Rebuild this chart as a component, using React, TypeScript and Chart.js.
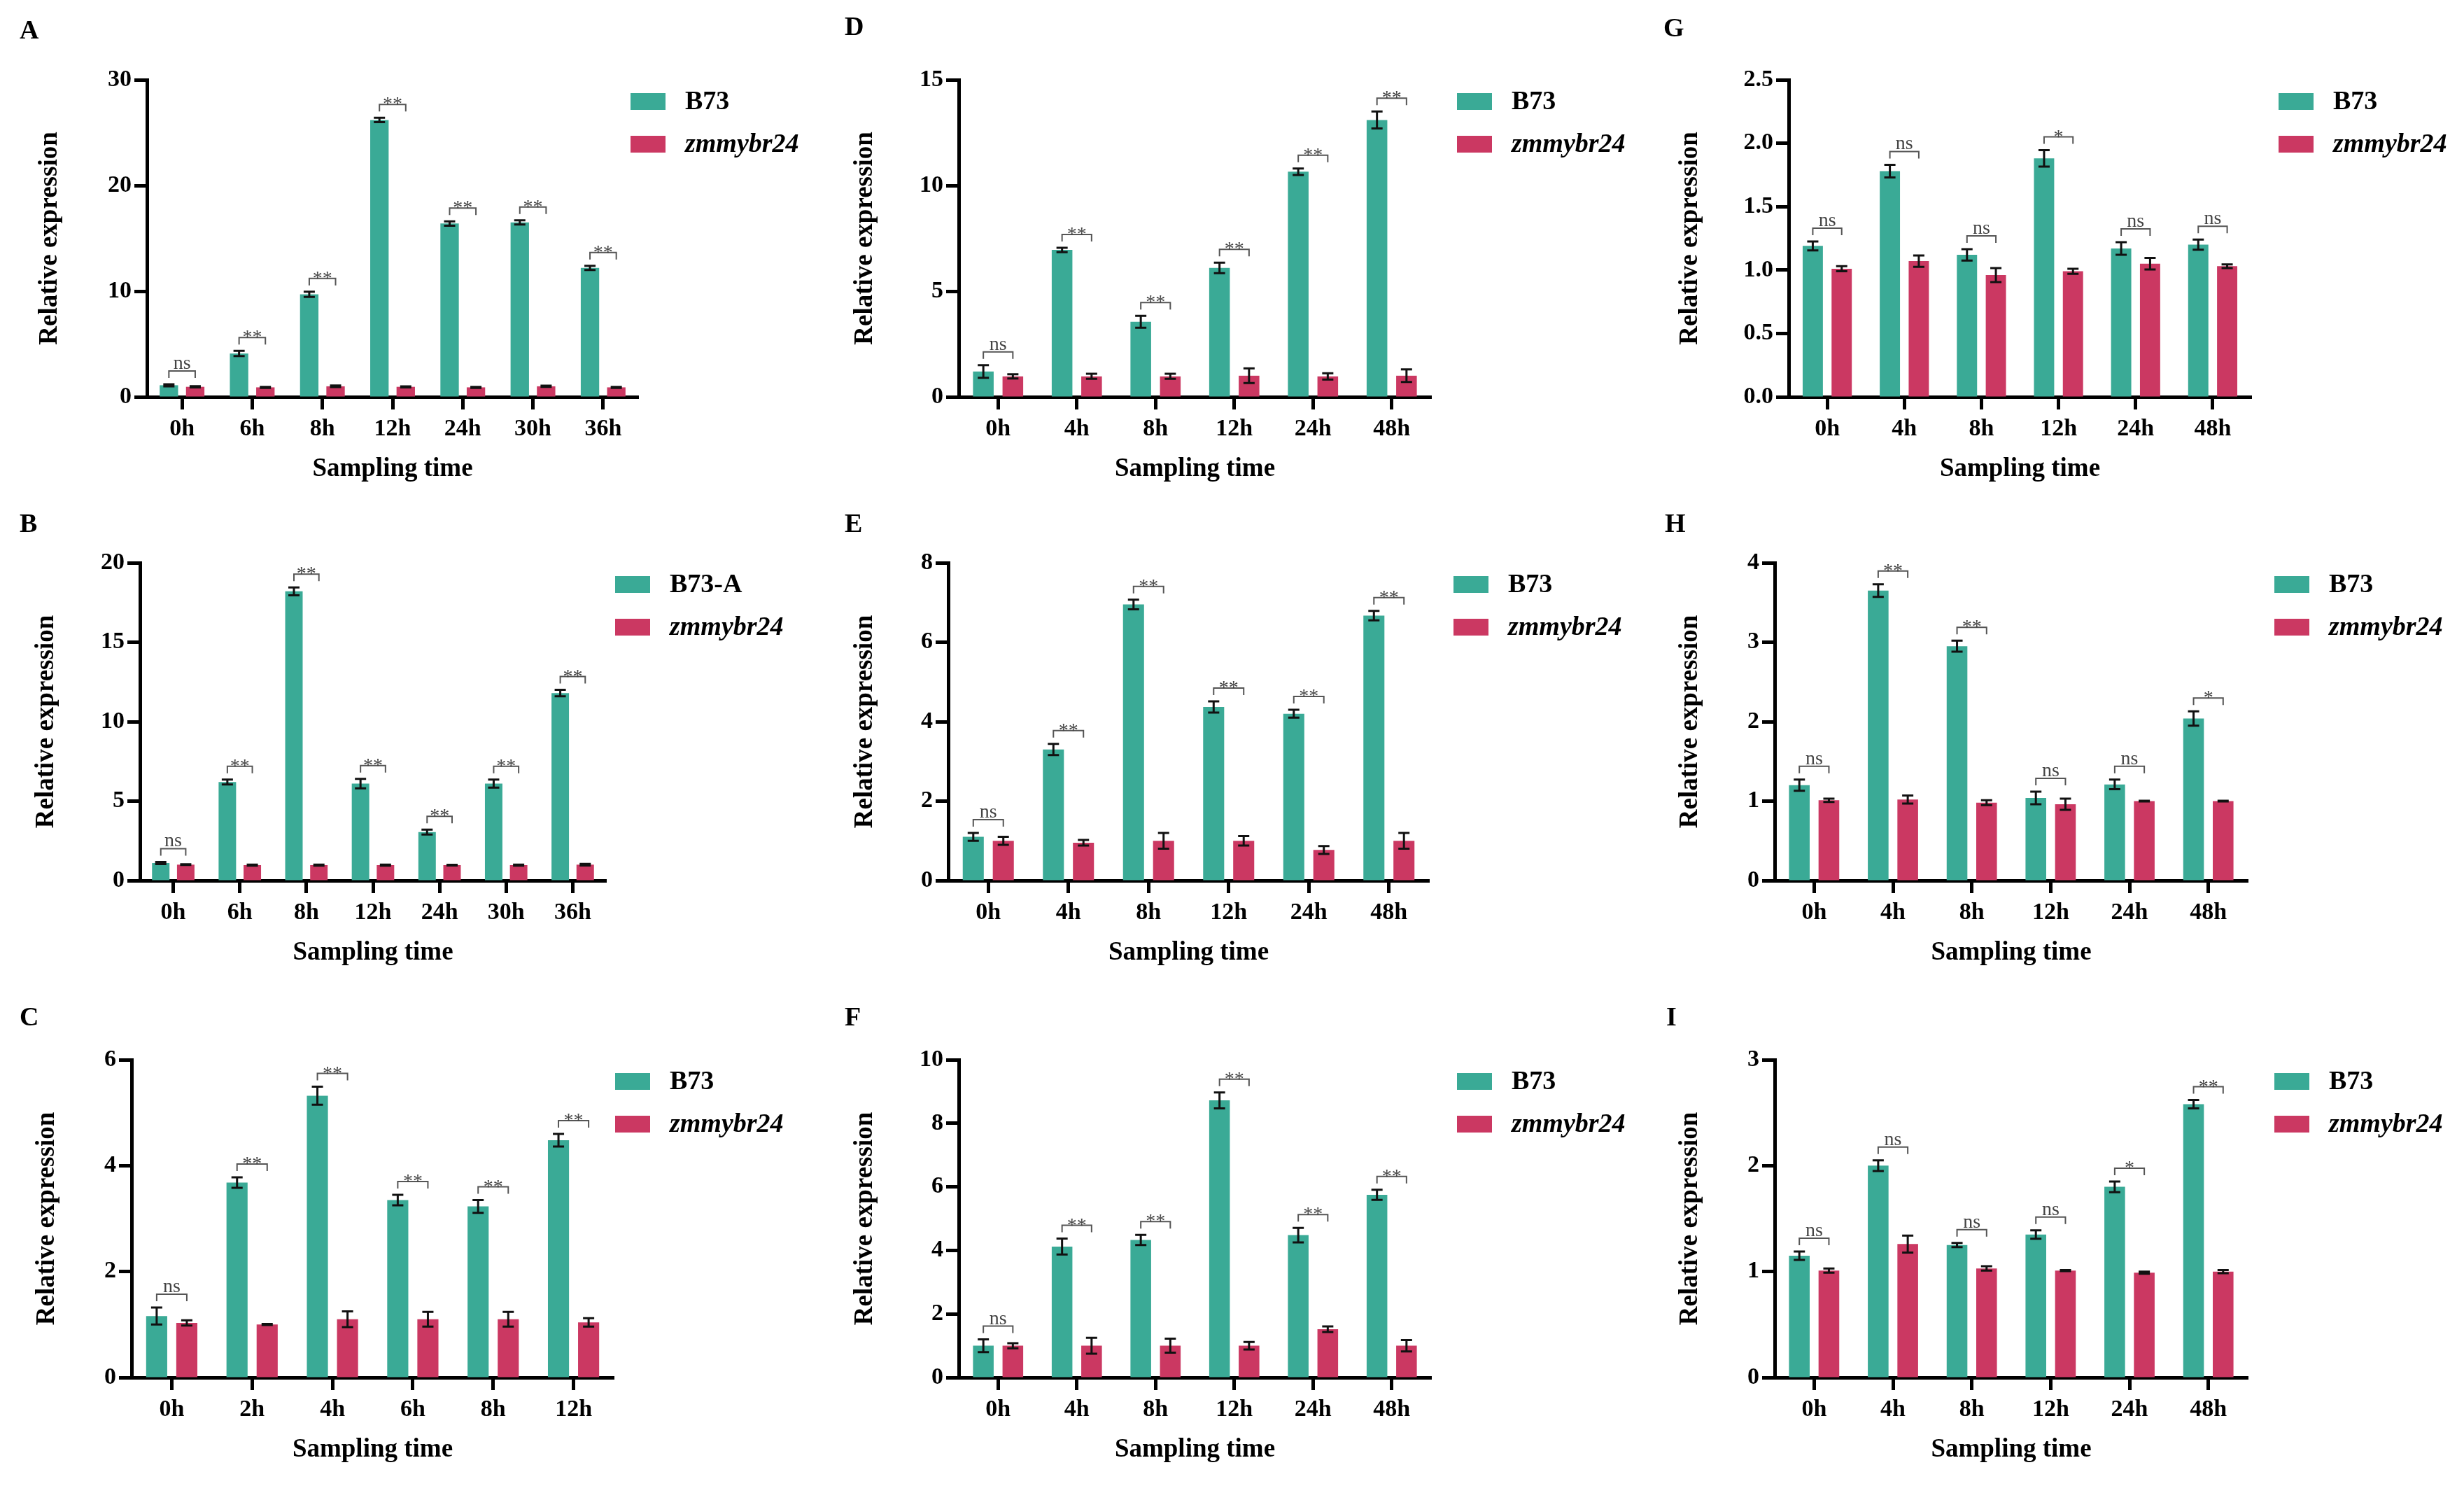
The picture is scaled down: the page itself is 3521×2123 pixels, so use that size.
import React, { useEffect, useRef } from 'react';
import { Chart, registerables } from 'chart.js';

Chart.register(...registerables);

const FONT = '"Liberation Serif", "Times New Roman", "DejaVu Serif", serif';
Chart.defaults.font.family = FONT;

// ---- data ----
const timesA = ['0h', '6h', '8h', '12h', '24h', '30h', '36h'];
const b73A = [1.1, 4.1, 9.7, 26.2, 16.4, 16.5, 12.2];
const b73ErrA = [0.1, 0.25, 0.25, 0.2, 0.2, 0.2, 0.2];
const mutA = [0.95, 0.9, 1.0, 0.95, 0.9, 1.0, 0.9];
const mutErrA = [0.06, 0.05, 0.08, 0.05, 0.05, 0.06, 0.05];
const sigA = ['ns', '**', '**', '**', '**', '**', '**'];

const timesB = ['0h', '6h', '8h', '12h', '24h', '30h', '36h'];
const b73B = [1.1, 6.2, 18.2, 6.1, 3.05, 6.1, 11.8];
const b73ErrB = [0.07, 0.15, 0.25, 0.3, 0.15, 0.25, 0.2];
const mutB = [1.0, 0.97, 0.97, 0.97, 0.97, 0.97, 1.0];
const mutErrB = [0.02, 0.03, 0.03, 0.03, 0.02, 0.03, 0.05];
const sigB = ['ns', '**', '**', '**', '**', '**', '**'];

const timesC = ['0h', '2h', '4h', '6h', '8h', '12h'];
const b73C = [1.16, 3.68, 5.32, 3.35, 3.23, 4.48];
const b73ErrC = [0.16, 0.1, 0.17, 0.1, 0.12, 0.12];
const mutC = [1.03, 1.0, 1.1, 1.1, 1.1, 1.04];
const mutErrC = [0.05, 0.01, 0.15, 0.14, 0.14, 0.08];
const sigC = ['ns', '**', '**', '**', '**', '**'];

const timesD = ['0h', '4h', '8h', '12h', '24h', '48h'];
const b73D = [1.2, 6.95, 3.55, 6.1, 10.65, 13.1];
const b73ErrD = [0.3, 0.1, 0.28, 0.25, 0.15, 0.4];
const mutD = [0.97, 0.97, 0.97, 1.0, 0.97, 1.0];
const mutErrD = [0.1, 0.12, 0.12, 0.35, 0.15, 0.3];
const sigD = ['ns', '**', '**', '**', '**', '**'];

const timesE = ['0h', '4h', '8h', '12h', '24h', '48h'];
const b73E = [1.1, 3.3, 6.95, 4.37, 4.2, 6.67];
const b73ErrE = [0.1, 0.14, 0.12, 0.14, 0.1, 0.12];
const mutE = [1.0, 0.95, 1.0, 1.0, 0.77, 1.0];
const mutErrE = [0.1, 0.07, 0.2, 0.12, 0.1, 0.2];
const sigE = ['ns', '**', '**', '**', '**', '**'];

const timesF = ['0h', '4h', '8h', '12h', '24h', '48h'];
const b73F = [1.0, 4.12, 4.33, 8.72, 4.48, 5.75];
const b73ErrF = [0.2, 0.25, 0.16, 0.25, 0.23, 0.16];
const mutF = [1.0, 1.0, 1.0, 1.0, 1.52, 1.0];
const mutErrF = [0.08, 0.25, 0.22, 0.12, 0.09, 0.18];
const sigF = ['ns', '**', '**', '**', '**', '**'];

const timesG = ['0h', '4h', '8h', '12h', '24h', '48h'];
const b73G = [1.19, 1.78, 1.12, 1.88, 1.17, 1.2];
const b73ErrG = [0.035, 0.05, 0.045, 0.065, 0.05, 0.04];
const mutG = [1.01, 1.07, 0.96, 0.99, 1.05, 1.03];
const mutErrG = [0.02, 0.045, 0.055, 0.02, 0.045, 0.015];
const sigG = ['ns', 'ns', 'ns', '*', 'ns', 'ns'];

const timesH = ['0h', '4h', '8h', '12h', '24h', '48h'];
const b73H = [1.2, 3.65, 2.95, 1.04, 1.21, 2.04];
const b73ErrH = [0.07, 0.08, 0.07, 0.08, 0.06, 0.09];
const mutH = [1.01, 1.02, 0.98, 0.96, 1.0, 1.0];
const mutErrH = [0.02, 0.05, 0.03, 0.07, 0.005, 0.005];
const sigH = ['ns', '**', '**', 'ns', 'ns', '*'];

const timesI = ['0h', '4h', '8h', '12h', '24h', '48h'];
const b73I = [1.15, 2.0, 1.25, 1.35, 1.8, 2.58];
const b73ErrI = [0.04, 0.05, 0.02, 0.04, 0.05, 0.04];
const mutI = [1.01, 1.26, 1.03, 1.01, 0.99, 1.0];
const mutErrI = [0.02, 0.08, 0.02, 0.005, 0.01, 0.015];
const sigI = ['ns', 'ns', 'ns', 'ns', '*', '**'];

// y axis ranges: [max, step, decimals]
const yAxisA = [30, 10, 0];
const yAxisB = [20, 5, 0];
const yAxisC = [6, 2, 0];
const yAxisD = [15, 5, 0];
const yAxisE = [8, 2, 0];
const yAxisF = [10, 2, 0];
const yAxisG = [2.5, 0.5, 1];
const yAxisH = [4, 1, 0];
const yAxisI = [3, 1, 0];

const TEAL = '#3aaa96';
const PINK = '#cb3862';
const CANVAS_W = 1181;
const CANVAS_H = 733;

interface Panel {
  letter: string;
  wild: string;
  times: string[];
  b73: number[];
  b73Err: number[];
  mut: number[];
  mutErr: number[];
  sig: string[];
  yAxis: number[];
  // layout (canvas-relative px)
  x: number;
  y: number;
  area: [number, number, number, number]; // left, right, top, bottom
  yTitleX: number;
  legendX: number;
  letterPos: [number, number];
}

const panels: Panel[] = [
  { letter: 'A', wild: 'B73', times: timesA, b73: b73A, b73Err: b73ErrA, mut: mutA, mutErr: mutErrA, sig: sigA, yAxis: yAxisA,
    x: 0, y: 0, area: [210, 912, 114, 567], yTitleX: 71, legendX: 901, letterPos: [28, 45] },
  { letter: 'B', wild: 'B73-A', times: timesB, b73: b73B, b73Err: b73ErrB, mut: mutB, mutErr: mutErrB, sig: sigB, yAxis: yAxisB,
    x: 0, y: 690, area: [200, 866, 114, 568], yTitleX: 66, legendX: 879, letterPos: [28, 60] },
  { letter: 'C', wild: 'B73', times: timesC, b73: b73C, b73Err: b73ErrC, mut: mutC, mutErr: mutErrC, sig: sigC, yAxis: yAxisC,
    x: 0, y: 1390, area: [188, 877, 124, 578], yTitleX: 67, legendX: 879, letterPos: [28, 65] },
  { letter: 'D', wild: 'B73', times: timesD, b73: b73D, b73Err: b73ErrD, mut: mutD, mutErr: mutErrD, sig: sigD, yAxis: yAxisD,
    x: 1170, y: 0, area: [200, 875, 114, 567], yTitleX: 66, legendX: 912, letterPos: [37, 40] },
  { letter: 'E', wild: 'B73', times: timesE, b73: b73E, b73Err: b73ErrE, mut: mutE, mutErr: mutErrE, sig: sigE, yAxis: yAxisE,
    x: 1170, y: 690, area: [185, 872, 114, 568], yTitleX: 66, legendX: 907, letterPos: [37, 60] },
  { letter: 'F', wild: 'B73', times: timesF, b73: b73F, b73Err: b73ErrF, mut: mutF, mutErr: mutErrF, sig: sigF, yAxis: yAxisF,
    x: 1170, y: 1390, area: [200, 875, 124, 578], yTitleX: 66, legendX: 912, letterPos: [37, 65] },
  { letter: 'G', wild: 'B73', times: timesG, b73: b73G, b73Err: b73ErrG, mut: mutG, mutErr: mutErrG, sig: sigG, yAxis: yAxisG,
    x: 2340, y: 0, area: [216, 877, 114, 567], yTitleX: 75, legendX: 916, letterPos: [37, 42] },
  { letter: 'H', wild: 'B73', times: timesH, b73: b73H, b73Err: b73ErrH, mut: mutH, mutErr: mutErrH, sig: sigH, yAxis: yAxisH,
    x: 2340, y: 690, area: [196, 872, 114, 568], yTitleX: 75, legendX: 910, letterPos: [39, 60] },
  { letter: 'I', wild: 'B73', times: timesI, b73: b73I, b73Err: b73ErrI, mut: mutI, mutErr: mutErrI, sig: sigI, yAxis: yAxisI,
    x: 2340, y: 1390, area: [196, 872, 124, 578], yTitleX: 75, legendX: 910, letterPos: [41, 65] },
];

// error bars, significance brackets, legend and panel letter
const overlayPlugin = {
  id: 'overlay',
  afterDatasetsDraw(chart: any, _args: any, opts: any) {
    const p: Panel = opts.panel;
    const ctx = chart.ctx;
    const yScale = chart.scales.y;
    const m0 = chart.getDatasetMeta(0);
    const m1 = chart.getDatasetMeta(1);
    ctx.save();

    const series: [any, number[], number[]][] = [
      [m0, p.b73, p.b73Err],
      [m1, p.mut, p.mutErr],
    ];
    ctx.strokeStyle = '#111';
    ctx.lineWidth = 3;
    series.forEach(([meta, vals, errs]) => {
      meta.data.forEach((bar: any, i: number) => {
        const x = bar.x;
        const yt = yScale.getPixelForValue(vals[i] + errs[i]);
        const yb = yScale.getPixelForValue(vals[i] - errs[i]);
        ctx.beginPath();
        ctx.moveTo(x, yt);
        ctx.lineTo(x, yb);
        ctx.moveTo(x - 8, yt);
        ctx.lineTo(x + 8, yt);
        ctx.moveTo(x - 8, yb);
        ctx.lineTo(x + 8, yb);
        ctx.stroke();
      });
    });

    p.sig.forEach((s, i) => {
      const xa = m0.data[i].x;
      const xb = m1.data[i].x;
      const top = Math.min(
        yScale.getPixelForValue(p.b73[i] + p.b73Err[i]),
        yScale.getPixelForValue(p.mut[i] + p.mutErr[i])
      );
      const ly = top - 19;
      ctx.strokeStyle = '#555';
      ctx.lineWidth = 2;
      ctx.beginPath();
      ctx.moveTo(xa, ly + 10);
      ctx.lineTo(xa, ly);
      ctx.lineTo(xb, ly);
      ctx.lineTo(xb, ly + 10);
      ctx.stroke();
      ctx.fillStyle = '#444';
      ctx.font = `28px ${FONT}`;
      ctx.textAlign = 'center';
      ctx.textBaseline = 'alphabetic';
      ctx.fillText(s, (xa + xb) / 2, s.includes('*') ? ly + 8 : ly - 3);
    });
    ctx.restore();
  },
  afterDraw(chart: any, _args: any, opts: any) {
    const p: Panel = opts.panel;
    const ctx = chart.ctx;
    const top = p.area[2];
    ctx.save();
    const items: [string, string, string][] = [
      [p.wild, TEAL, 'bold'],
      ['zmmybr24', PINK, 'italic bold'],
    ];
    items.forEach(([label, color, style], k) => {
      const cy = top + 31 + k * 61;
      ctx.fillStyle = color;
      ctx.fillRect(p.legendX, cy - 12, 50, 24);
      ctx.fillStyle = '#000';
      ctx.font = `${style} 38px ${FONT}`;
      ctx.textAlign = 'left';
      ctx.textBaseline = 'middle';
      ctx.fillText(label, p.legendX + 78, cy + 1);
    });
    ctx.font = `bold 38px ${FONT}`;
    ctx.textAlign = 'left';
    ctx.textBaseline = 'middle';
    ctx.fillText(p.letter, p.letterPos[0], p.letterPos[1]);
    ctx.restore();
  },
};

const fontsReady = (): Promise<unknown> => {
  const fonts: any = (document as any).fonts;
  if (!fonts || !fonts.load) return Promise.resolve();
  return Promise.all([
    fonts.load(`bold 34px ${FONT}`),
    fonts.load(`italic bold 34px ${FONT}`),
    fonts.load(`28px ${FONT}`),
  ]).catch(() => undefined);
};

const PanelChart: React.FC<{ panel: Panel }> = ({ panel }) => {
  const canvasRef = useRef<HTMLCanvasElement | null>(null);

  useEffect(() => {
    const canvas = canvasRef.current;
    if (!canvas) return;
    let chart: Chart | null = null;
    let cancelled = false;

    const [left, right, top, bottom] = panel.area;
    const [yMax, yStep, decimals] = panel.yAxis;
    const tickFont = { family: FONT, size: 34, weight: 'bold' as const };
    const titleFont = { family: FONT, size: 37, weight: 'bold' as const, lineHeight: 1.2 };
    const titleHalf = (37 * 1.2) / 2;

    fontsReady().then(() => {
      if (cancelled) return;
      chart = new Chart(canvas, {
        type: 'bar',
        data: {
          labels: panel.times,
          datasets: [
            { label: panel.wild, data: panel.b73, backgroundColor: TEAL, borderWidth: 0 },
            { label: 'zmmybr24', data: panel.mut, backgroundColor: PINK, borderWidth: 0 },
          ],
        },
        options: {
          animation: false,
          responsive: false,
          devicePixelRatio: 1,
          datasets: { bar: { categoryPercentage: 0.75, barPercentage: 0.7 } },
          layout: { padding: { left: 0, top, right: CANVAS_W - right, bottom: 0 } },
          plugins: {
            legend: { display: false },
            tooltip: { enabled: false },
            overlay: { panel },
          } as any,
          scales: {
            x: {
              grid: {
                display: true,
                drawOnChartArea: false,
                offset: false,
                drawTicks: true,
                tickLength: 18,
                tickWidth: 5,
                tickColor: '#000',
              },
              border: { display: true, color: '#000', width: 5 },
              ticks: { color: '#000', font: tickFont, padding: 8, maxRotation: 0 },
              title: {
                display: true,
                text: 'Sampling time',
                color: '#000',
                font: titleFont,
                padding: { top: 0, bottom: CANVAS_H - (bottom + 103) - titleHalf },
              },
              afterFit: (s: any) => {
                s.height = CANVAS_H - bottom;
              },
            },
            y: {
              min: 0,
              max: yMax,
              ticks: {
                stepSize: yStep,
                color: '#000',
                font: tickFont,
                padding: 4,
                callback: (v: any) => Number(v).toFixed(decimals),
              },
              grid: {
                display: true,
                drawOnChartArea: false,
                drawTicks: true,
                tickLength: 18,
                tickWidth: 5,
                tickColor: '#000',
              },
              border: { display: true, color: '#000', width: 5 },
              title: {
                display: true,
                text: 'Relative expression',
                color: '#000',
                font: titleFont,
                padding: { top: panel.yTitleX - titleHalf, bottom: 0 },
              },
              afterFit: (s: any) => {
                s.width = left;
              },
            },
          },
        },
        plugins: [overlayPlugin],
      });
    });

    return () => {
      cancelled = true;
      if (chart) chart.destroy();
    };
  }, [panel]);

  return (
    <canvas
      ref={canvasRef}
      width={CANVAS_W}
      height={CANVAS_H}
      style={{ position: 'absolute', left: panel.x, top: panel.y, width: CANVAS_W, height: CANVAS_H }}
    />
  );
};

const App: React.FC = () => {
  return (
    <div
      style={{
        position: 'absolute',
        left: 0,
        top: 0,
        width: 3521,
        height: 2123,
        background: '#fff',
        overflow: 'hidden',
        fontFamily: FONT,
      }}
    >
      {panels.map((p) => (
        <PanelChart key={p.letter} panel={p} />
      ))}
    </div>
  );
};

export default App;
